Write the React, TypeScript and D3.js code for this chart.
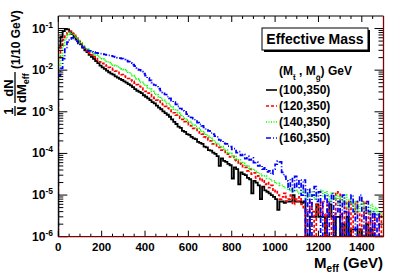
import React from 'react';
import * as d3 from 'd3';

// bins of 10 GeV from 0 to 1500, normalised 1/N dN/dMeff
const binWidth = 10;
const xTicks = [0, 200, 400, 600, 800, 1000, 1200, 1400];
const yTickExps = [-6, -5, -4, -3, -2, -1];
const seriesNames = ['(100,350)', '(120,350)', '(140,350)', '(160,350)'];
const seriesColors = ['#000000', '#ff0000', '#00ff00', '#0000ff'];
const seriesDash = ['none', '3,2', '1,1.5', '5,2,1,2'];

const blk = [
  0.035, 0.063, 0.087, 0.098, 0.095, 0.085, 0.074, 0.063, 0.054, 0.047,
  0.042, 0.035, 0.030, 0.027, 0.0234, 0.021, 0.0186, 0.0166, 0.0148, 0.0129,
  0.0117, 0.0107, 0.0098, 0.0089, 0.0083, 0.0078, 0.0071, 0.0066, 0.0062, 0.0058,
  0.0054, 0.0050, 0.0046, 0.0043, 0.0039, 0.0035, 0.0032, 0.0030, 0.0028, 0.0025,
  0.0023, 0.0021, 0.0019, 0.0017, 0.0016, 0.0014, 0.00126, 0.00115, 0.00102, 0.00093,
  8.5e-4, 7.6e-4, 6.6e-4, 5.7e-4, 5.1e-4, 4.4e-4, 4.1e-4, 3.5e-4, 3.3e-4, 2.9e-4,
  2.8e-4, 2.5e-4, 2.3e-4, 2.2e-4, 1.9e-4, 1.8e-4, 1.7e-4, 1.45e-4, 1.4e-4, 1.2e-4,
  1.17e-4, 1.05e-4, 9.8e-5, 8.6e-5, 5.0e-5, 7.6e-5, 6.6e-5, 6.3e-5, 5.6e-5, 5.2e-5,
  2.5e-5, 4.6e-5, 4.2e-5, 1.8e-5, 3.5e-5, 3.2e-5, 3.0e-5, 2.6e-5, 2.4e-5, 1.1e-5,
  2.2e-5, 2.0e-5, 1.7e-5, 8e-6, 1.6e-5, 1.3e-5, 1.2e-5, 1.1e-5, 1.0e-5, 9e-6,
  8e-6, 4.4e-6, 7e-6, 7e-6, 6.5e-6, 7e-6, 7e-6, 7e-6, 1e-5, 7e-6,
  7e-6, 7e-6, 6.5e-6, 7e-6, 0, 0, 3e-6, 3e-6, 3e-6, 6e-6,
  3e-6, 3e-6, 3e-6, 0, 3e-6, 6e-6, 3e-6, 0, 3e-6, 3e-6,
  0, 2e-6, 0, 3e-6, 0, 1.5e-6, 1.5e-6, 1.5e-6, 0, 1.5e-6,
  0, 0, 2e-6, 0, 1.5e-6, 0, 0, 0, 0, 0,
];

const red = [
  0.020, 0.035, 0.054, 0.071, 0.079, 0.083, 0.078, 0.069, 0.059, 0.050,
  0.044, 0.037, 0.032, 0.029, 0.026, 0.023, 0.021, 0.019, 0.0174, 0.0158,
  0.0145, 0.0135, 0.0126, 0.0117, 0.011, 0.0102, 0.0095, 0.0089, 0.0083, 0.0078,
  0.0072, 0.0068, 0.0063, 0.0058, 0.0054, 0.0049, 0.0045, 0.0041, 0.0037, 0.0034,
  0.0031, 0.0028, 0.0026, 0.0023, 0.0021, 0.0019, 0.0018, 0.0016, 0.00148, 0.00135,
  1.23e-3, 1.1e-3, 1.02e-3, 9.5e-4, 8.3e-4, 7.8e-4, 7.0e-4, 6.6e-4, 5.8e-4, 5.4e-4,
  4.9e-4, 4.6e-4, 4.0e-4, 3.8e-4, 3.3e-4, 3.1e-4, 2.9e-4, 2.5e-4, 2.4e-4, 2.1e-4,
  2.0e-4, 1.7e-4, 1.7e-4, 1.4e-4, 1.4e-4, 1.2e-4, 1.15e-4, 1.0e-4, 9.6e-5, 8.2e-5,
  8.5e-5, 7.0e-5, 6.6e-5, 5.5e-5, 5.8e-5, 4.8e-5, 4.6e-5, 3.8e-5, 4.2e-5, 3.2e-5,
  3.4e-5, 2.6e-5, 2.9e-5, 2.2e-5, 2.4e-5, 1.8e-5, 2.0e-5, 1.5e-5, 1.7e-5, 1.2e-5,
  1.3e-5, 1.0e-5, 8e-6, 9e-6, 1.1e-5, 7e-6, 8e-6, 1.0e-5, 6e-6, 8e-6,
  7e-6, 9e-6, 6e-6, 5e-6, 0, 4e-6, 7e-6, 4e-6, 0, 6e-6,
  3.5e-6, 7e-6, 3.5e-6, 0, 7e-6, 3.5e-6, 0, 3.5e-6, 1.2e-5, 1.1e-5,
  3.5e-6, 0, 7e-6, 3.5e-6, 7e-6, 0, 3.5e-6, 7e-6, 3.5e-6, 0,
  3.5e-6, 7e-6, 0, 3.5e-6, 0, 3.5e-6, 0, 0, 3.5e-6, 0,
];

const grn = [
  0.013, 0.022, 0.038, 0.056, 0.072, 0.079, 0.076, 0.068, 0.059, 0.051,
  0.045, 0.040, 0.035, 0.032, 0.029, 0.026, 0.0245, 0.023, 0.0214, 0.020,
  0.0186, 0.0174, 0.0162, 0.0151, 0.0141, 0.0132, 0.0126, 0.0120, 0.0114, 0.0108,
  0.0102, 0.0096, 0.0089, 0.0081, 0.0074, 0.0067, 0.0061, 0.0056, 0.0051, 0.0047,
  0.0042, 0.0038, 0.0035, 0.0031, 0.0028, 0.0026, 0.0023, 0.0021, 0.0019, 0.00174,
  1.58e-3, 1.45e-3, 1.29e-3, 1.15e-3, 1.08e-3, 9.3e-4, 8.6e-4, 7.6e-4, 7.0e-4, 6.3e-4,
  5.8e-4, 5.3e-4, 4.8e-4, 4.5e-4, 4.0e-4, 3.7e-4, 3.3e-4, 3.1e-4, 2.7e-4, 2.6e-4,
  2.3e-4, 2.1e-4, 1.85e-4, 1.75e-4, 1.55e-4, 1.45e-4, 1.3e-4, 1.2e-4, 1.05e-4, 1.0e-4,
  8.9e-5, 8.4e-5, 7.4e-5, 7.0e-5, 6.0e-5, 5.8e-5, 5.0e-5, 4.9e-5, 4.4e-5, 4.3e-5,
  3.9e-5, 3.7e-5, 3.3e-5, 3.2e-5, 2.9e-5, 2.9e-5, 2.5e-5, 2.5e-5, 2.2e-5, 2.2e-5,
  1.9e-5, 1.9e-5, 1.7e-5, 1.7e-5, 1.5e-5, 1.5e-5, 1.3e-5, 1.4e-5, 1.2e-5, 1.3e-5,
  1.2e-5, 1.1e-5, 1.3e-5, 1.1e-5, 8e-6, 1.0e-5, 1.2e-5, 1.0e-5, 8e-6, 1.1e-5,
  1.2e-5, 1.3e-5, 9e-6, 1.2e-5, 1.0e-5, 7e-6, 1.1e-5, 8e-6, 1.0e-5, 6e-6,
  9e-6, 7e-6, 1.0e-5, 5e-6, 8e-6, 6e-6, 4e-6, 7e-6, 4e-6, 6e-6,
  7e-6, 4e-6, 5e-6, 3.5e-6, 6e-6, 4e-6, 5e-6, 3.5e-6, 4e-6, 3.5e-6,
];

const blu = [
  0.0075, 0.011, 0.019, 0.032, 0.047, 0.056, 0.060, 0.058, 0.050, 0.044,
  0.039, 0.035, 0.032, 0.030, 0.029, 0.0275, 0.027, 0.026, 0.0257, 0.025,
  0.0245, 0.0238, 0.0232, 0.0226, 0.022, 0.0213, 0.0205, 0.020, 0.0195, 0.019,
  0.018, 0.017, 0.016, 0.0148, 0.0136, 0.0125, 0.0113, 0.0102, 0.0092, 0.0083,
  0.0074, 0.0065, 0.0057, 0.0050, 0.0044, 0.0040, 0.0036, 0.0032, 0.0029, 0.0026,
  2.3e-3, 2.1e-3, 1.85e-3, 1.7e-3, 1.5e-3, 1.35e-3, 1.2e-3, 1.05e-3, 1.0e-3, 8.8e-4,
  8.0e-4, 7.3e-4, 6.8e-4, 6.0e-4, 5.5e-4, 5.0e-4, 4.6e-4, 4.2e-4, 3.7e-4, 3.5e-4,
  3.1e-4, 2.9e-4, 2.6e-4, 2.5e-4, 2.1e-4, 2.0e-4, 1.75e-4, 1.7e-4, 1.5e-4, 1.45e-4,
  1.25e-4, 1.3e-4, 1.05e-4, 1.1e-4, 9.0e-5, 9.5e-5, 7.5e-5, 8.5e-5, 7.0e-5, 7.8e-5,
  6.0e-5, 6.2e-5, 5.0e-5, 5.2e-5, 4.2e-5, 4.5e-5, 3.6e-5, 3.8e-5, 3.2e-5, 4.2e-5,
  5.5e-5, 6.5e-5, 6.3e-5, 3.5e-5, 2.8e-5, 2.2e-5, 1.4e-5, 2.5e-5, 1.2e-5, 2.8e-5,
  1.5e-5, 2.3e-5, 1.0e-5, 2.3e-5, 0, 1.4e-5, 0, 1.0e-5, 1.6e-5, 7e-6,
  1.2e-5, 0, 7e-6, 1.0e-5, 0, 7e-6, 1.1e-5, 0, 4e-6, 7e-6,
  0, 1.0e-5, 4e-6, 0, 7e-6, 1.0e-5, 4e-6, 0, 7e-6, 1.0e-5,
  4e-6, 0, 7e-6, 4e-6, 0, 4e-6, 0, 3.5e-6, 0, 0,
];

const series = [blk, red, grn, blu];

const W = 407;
const H = 277;
const left = 58.3;
const right = 383.5;
const top = 16;
const bottom = 236.7;
const yMin = 1e-6;

const x = d3.scaleLinear().domain([0, 1500]).range([left, right]);
const y = d3.scaleLog().domain([yMin, 0.2]).range([bottom, top]);

const font = '"Liberation Sans", Arial, Helvetica, sans-serif';

function stepPath(vals: number[]) {
  const pts: [number, number][] = [[x(0), y(yMin)]];
  vals.forEach((v, i) => {
    const yy = v > yMin ? y(v) : y(yMin);
    pts.push([x(i * binWidth), yy]);
    pts.push([x((i + 1) * binWidth), yy]);
  });
  pts.push([x(vals.length * binWidth), y(yMin)]);
  return d3.line()(pts);
}

export default function App() {
  const xMinor = d3.range(0, 1501, 50);
  const yMinor: number[] = [];
  yTickExps.forEach((e) => {
    for (let k = 2; k <= 9; k++) {
      const v = k * Math.pow(10, e);
      if (v < 0.2) yMinor.push(v);
    }
  });

  return (
    <svg width={W} height={H} style={{ position: 'absolute', left: 0, top: 0, background: '#fff' }}
      fontFamily={font} fontWeight="bold">
      <defs>
        <clipPath id="frame">
          <rect x={left} y={top} width={right - left} height={bottom - top} />
        </clipPath>
      </defs>
      <rect width={W} height={H} fill="#fff" />

      {/* histograms */}
      <g clipPath="url(#frame)">
        {series.map((s, i) => (
          <path key={i} d={stepPath(s) || ''} fill="none" stroke={seriesColors[i]}
            strokeWidth={i === 0 ? 1.8 : 1.7} strokeDasharray={seriesDash[i]} />
        ))}
      </g>

      {/* x ticks top & bottom */}
      {xMinor.map((t) => {
        const major = t % 200 === 0;
        const len = major ? 6 : 3;
        return (
          <g key={'x' + t} stroke="#000" strokeWidth={1}>
            <line x1={x(t)} x2={x(t)} y1={bottom} y2={bottom - len} />
            <line x1={x(t)} x2={x(t)} y1={top} y2={top + len} />
          </g>
        );
      })}
      {/* y ticks left & right */}
      {yTickExps.map((e) => (
        <g key={'y' + e} stroke="#000" strokeWidth={1}>
          <line x1={left} x2={left + 9} y1={y(Math.pow(10, e))} y2={y(Math.pow(10, e))} />
          <line x1={right} x2={right - 9} y1={y(Math.pow(10, e))} y2={y(Math.pow(10, e))} />
        </g>
      ))}
      {yMinor.map((v, i) => (
        <g key={'ym' + i} stroke="#000" strokeWidth={1}>
          <line x1={left} x2={left + 5} y1={y(v)} y2={y(v)} />
          <line x1={right} x2={right - 5} y1={y(v)} y2={y(v)} />
        </g>
      ))}

      {/* frame */}
      <line x1={left} x2={left} y1={top} y2={bottom} stroke="#000" />
      <line x1={left} x2={right} y1={top} y2={top} stroke="#000" />
      <line x1={left} x2={right} y1={bottom} y2={bottom} stroke="#800000" strokeWidth={1.3} />
      <line x1={right} x2={right} y1={top} y2={bottom} stroke="#800000" strokeWidth={1.3} />

      {/* x tick labels */}
      {xTicks.map((t) => (
        <text key={'xl' + t} x={x(t)} y={251} textAnchor="middle" fontSize={11.5}>{t}</text>
      ))}
      {/* y tick labels */}
      {yTickExps.map((e) => (
        <text key={'yl' + e} x={53} y={y(Math.pow(10, e)) + 4} textAnchor="end" fontSize={12}>
          10<tspan dy={-5} fontSize={8.5}>{e}</tspan>
        </text>
      ))}

      {/* x title */}
      <text x={383} y={268} textAnchor="end" fontSize={15}>
        M<tspan dy={4} fontSize={10}>eff</tspan><tspan dy={-4}> (GeV)</tspan>
      </text>

      {/* y title */}
      <g transform="translate(15,116) rotate(-90)">
        <text x={5} y={-2.5} textAnchor="middle" fontSize={13}>1</text>
        <line x1={0} x2={10} y1={0} y2={0} stroke="#000" strokeWidth={1.3} />
        <text x={5} y={11} textAnchor="middle" fontSize={13}>N</text>
        <text x={28} y={-2.5} textAnchor="middle" fontSize={13}>dN</text>
        <line x1={13} x2={44} y1={0} y2={0} stroke="#000" strokeWidth={1.3} />
        <text x={13} y={11} fontSize={13}>dM<tspan dy={3} fontSize={9}>eff</tspan></text>
        <text x={47} y={5} fontSize={12}>(1/10 GeV)</text>
      </g>

      {/* title box */}
      <rect x={264} y={30} width={106} height={22} fill="#000" />
      <rect x={262} y={28} width={106} height={22} fill="#fff" stroke="#000" />
      <text x={315} y={44} textAnchor="middle" fontSize={14}>Effective Mass</text>

      {/* legend */}
      <text x={279} y={75} fontSize={12}>
        (M<tspan dy={5} fontSize={8}>t̃</tspan><tspan dy={-5}> , M</tspan>
        <tspan dy={5} fontSize={8}>g̃</tspan><tspan dy={-5}>) GeV</tspan>
      </text>
      {seriesNames.map((n, i) => {
        const by = 94 + i * 16;
        return (
          <g key={n}>
            <line x1={266} x2={277} y1={by - 4} y2={by - 4} stroke={seriesColors[i]}
              strokeWidth={1.6} strokeDasharray={seriesDash[i]} />
            <text x={279} y={by} fontSize={12}>{n}</text>
          </g>
        );
      })}
    </svg>
  );
}
